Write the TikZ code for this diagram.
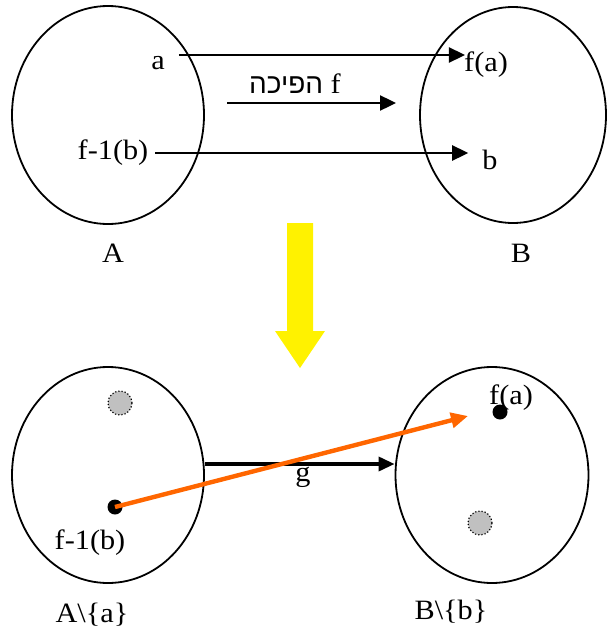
\documentclass[tikz,border=0pt]{standalone}
\usepackage{fontspec}
\setmainfont[FakeStretch=1.08]{Liberation Serif}
\newfontfamily\hebfont[Script=Hebrew]{Liberation Sans}
\TeXXeTstate=1
\usetikzlibrary{arrows.meta}
\usetikzlibrary{shapes.geometric}
\definecolor{gorange}{RGB}{255,102,0}
\definecolor{dotgray}{RGB}{192,192,192}

\tikzset{
  set/.style={draw, ellipse, line width=1.8pt, inner sep=0pt},
  lbl/.style={inner sep=0pt, font=\fontsize{28}{30}\selectfont},
  fmap/.style={line width=2.4pt, -{Triangle[length=16pt,width=15pt]}},
  gmap/.style={line width=3.4pt, -{Triangle[length=16pt,width=14pt]}},
  newmap/.style={draw=gorange, line width=4.4pt, -{Triangle[length=17pt,width=15pt]}},
  elem/.style={circle, fill=black, minimum size=15pt, inner sep=0pt},
  gone/.style={circle, fill=dotgray, draw, dotted, line width=1.2pt, minimum size=24pt, inner sep=0pt},
}

\begin{document}
\begin{tikzpicture}[x=1pt,y=-1pt]

  \useasboundingbox (0,0) rectangle (607,632);

  % f : A -> B
  \node[set, minimum width=192pt, minimum height=218pt] (A) at (108,115) {};
  \node[set, minimum width=186pt, minimum height=216pt] (B) at (513,115) {};
  \node[lbl] (A-name) at (113,253) {A};
  \node[lbl] (B-name) at (521,253) {B};

  \node[lbl] (a) at (158,63) {a};
  \node[lbl] (fa) at (486,65) {f(a)};
  \node[lbl] (f1b) at (113,153) {f-1(b)};
  \node[lbl] (b) at (490,160) {b};

  \draw[fmap] ([xshift=14pt,yshift=8pt]a.east) -- ([xshift=1pt,yshift=10pt]fa.west);
  \draw[fmap] ([xshift=7pt]f1b.east) -- ([xshift=-14pt,yshift=7pt]b.west);

  \node[inner sep=0pt, font=\fontsize{28}{30}\selectfont] (inv) at (295,84)
    {\beginR f {\hebfont הפיכה}\endR};
  \coordinate (inv-from) at (227,103);
  \coordinate (inv-to) at (396,103);
  \draw[fmap] (inv-from) -- (inv-to);

  % yellow arrow
  \fill[yellow] (287,223) -- (313,223) -- (313,331) -- (325,331) -- (300,368)
    -- (275,331) -- (287,331) -- cycle;

  % g : A\{a} -> B\{b}
  \node[set, minimum width=192pt, minimum height=216pt] (A2) at (108,475) {};
  \node[set, minimum width=193pt, minimum height=216pt] (B2) at (492,475) {};
  \node[lbl] (A2-name) at (92,615) {A\textbackslash\{a\}};
  \node[lbl] (B2-name) at (451,612) {B\textbackslash\{b\}};

  \node[gone] (gA2) at (120,403) {};
  \node[gone] (gB2) at (480,523) {};
  \node[elem] (dA2) at (115,507) {};
  \node[elem] (dB2) at (500,412) {};
  \node[lbl] (f1b2) at (90,543) {f-1(b)};
  \node[lbl] (fa2) at (511,398) {f(a)};

  \draw[gmap] ([yshift=11pt]A2.east) -- ([yshift=11pt]B2.west);
  \node[lbl] (g) at (303,477) {g};

  \coordinate (new-to) at (468,416);
  \draw[newmap] (dA2.center) -- (new-to);

\end{tikzpicture}
\end{document}
